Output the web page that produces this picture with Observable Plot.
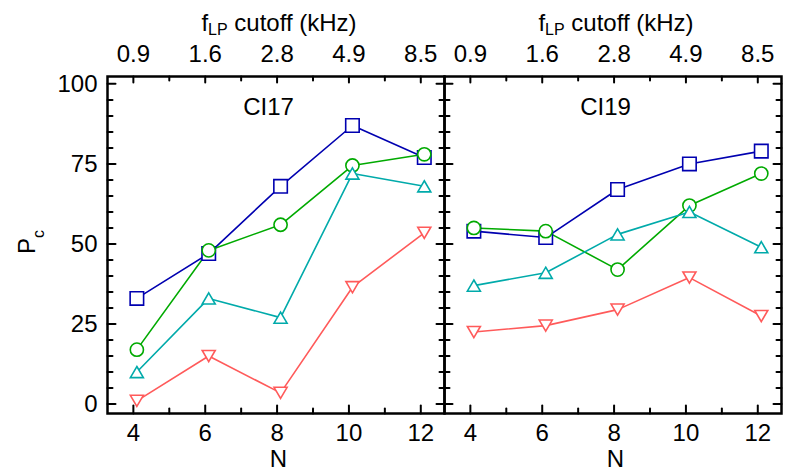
<!DOCTYPE html>
<html><head><meta charset="utf-8">
<script src="https://cdn.jsdelivr.net/npm/d3@7"></script>
<script src="https://cdn.jsdelivr.net/npm/@observablehq/plot@0.6"></script>
<style>body{margin:0;background:#fff} #chart{width:786px;height:472px}</style>
</head><body><div id="chart"></div>
<script>
const N = [4, 6, 8, 10, 12];
const fLPLabels = ["0.9", "1.6", "2.8", "4.9", "8.5"];
const panels = ["CI17", "CI19"];
const seriesNames = ["square", "circle", "triangleUp", "triangleDown"];
const seriesColors = ["#0000b0", "#00aa00", "#00aaaa", "#ff5a5a"];
const ci17Square = [33, 47, 68, 87, 77];
const ci17Circle = [17, 48, 56, 74.5, 78];
const ci17TriUp = [10, 33, 27, 72, 68];
const ci17TriDown = [1, 15, 3.5, 36.5, 53.5];
const ci19Square = [54, 52, 67, 75, 79];
const ci19Circle = [55, 54, 42, 62, 72];
const ci19TriUp = [37, 41, 53, 60, 49];
const ci19TriDown = [22.5, 24.5, 29.5, 39.5, 27.5];
const yTicks = [0, 25, 50, 75, 100];
const xMinor = [5, 7, 9, 11];
const yMinor = [5, 10, 15, 20, 30, 35, 40, 45, 55, 60, 65, 70, 80, 85, 90, 95];

const panelSeries = {
  CI17: [ci17Square, ci17Circle, ci17TriUp, ci17TriDown],
  CI19: [ci19Square, ci19Circle, ci19TriUp, ci19TriDown]
};
const rows = [];
for (const p of panels) {
  panelSeries[p].forEach((vals, s) => {
    vals.forEach((v, i) => rows.push({panel: p, series: seriesNames[s], N: N[i], Pc: v}));
  });
}

const triUp = {draw(ctx, size) {const r = Math.sqrt(size / Math.PI), w = 1.05 * r, h = 0.9 * r;
  ctx.moveTo(0, -h); ctx.lineTo(w, h); ctx.lineTo(-w, h); ctx.closePath();}};
const triDown = {draw(ctx, size) {const r = Math.sqrt(size / Math.PI), w = 1.05 * r, h = 0.9 * r;
  ctx.moveTo(0, h); ctx.lineTo(w, -h); ctx.lineTo(-w, -h); ctx.closePath();}};
const symbolFor = {square: "square", circle: "circle", triangleUp: triUp, triangleDown: triDown};
const radiusFor = {square: 7.6, circle: 6.6, triangleUp: 6.2, triangleDown: 6.2};

const tickShape = {draw(ctx, l) {ctx.moveTo(0, 0); ctx.lineTo(0, -l);}};
function edgeTicks(values, side, len) {
  const cfg = {left: [90, "y"], right: [-90, "y"], bottom: [0, "x"], top: [180, "x"]}[side];
  return Plot.vector(values, {[cfg[1]]: d => d, frameAnchor: side, rotate: cfg[0], length: len,
    anchor: "start", shape: tickShape, stroke: "black", strokeWidth: 2});
}

const dotMarks = seriesNames.map(s => Plot.dot(rows.filter(d => d.series === s), {
  x: "N", y: "Pc", fx: "panel", symbol: symbolFor[s], r: radiusFor[s],
  stroke: "series", fill: "white", strokeWidth: 1.6, dx: 3.5
}));

const svg = Plot.plot({
  width: 786, height: 472,
  marginLeft: 107, marginRight: 5, marginTop: 76, marginBottom: 59,
  style: {fontFamily: "'Liberation Sans', Arial, sans-serif", fontSize: "24px", background: "white", color: "black"},
  fx: {domain: panels, padding: 0, axis: null},
  x: {domain: [3.28, 12.66]},
  y: {domain: [-2.94, 102.3]},
  color: {domain: seriesNames, range: seriesColors},
  marks: [
    Plot.line(rows, {x: "N", y: "Pc", fx: "panel", z: "series", stroke: "series", strokeWidth: 1.6, dx: 3.5}),
    ...dotMarks,
    edgeTicks(N, "bottom", 8), edgeTicks(xMinor, "bottom", 5),
    edgeTicks(N, "top", 6), edgeTicks(xMinor, "top", 4),
    edgeTicks(yTicks, "left", 8), edgeTicks(yMinor, "left", 5),
    edgeTicks(yTicks, "right", 8), edgeTicks(yMinor, "right", 5),
    Plot.frame({stroke: "black", strokeWidth: 2.5}),
    Plot.axisX({anchor: "bottom", ticks: N, tickSize: 0, tickPadding: 10, label: null, fontSize: 24, tickFormat: d => String(d)}),
    Plot.axisX({anchor: "top", ticks: N, tickSize: 0, tickPadding: 15, label: null, fontSize: 24, tickFormat: d => fLPLabels[N.indexOf(d)]}),
    Plot.axisY({anchor: "left", ticks: yTicks, tickSize: 0, tickPadding: 10, label: null, fontSize: 24}),
    Plot.text(panels, {fx: d => d, text: d => d, frameAnchor: "top", lineAnchor: "middle", dy: 31, dx: -7.5, fontSize: 24}),
    Plot.text(panels, {fx: d => d, text: () => "N", frameAnchor: "bottom", lineAnchor: "middle", dy: 45.5, dx: 2.5, fontSize: 24}),
    Plot.text(panels, {fx: d => d, text: () => "fLP cutoff (kHz)", frameAnchor: "top", lineAnchor: "middle", dy: -53, dx: 3, fontSize: 24}),
    Plot.text([panels[0]], {fx: d => d, text: () => "Pc", frameAnchor: "left", textAnchor: "middle", lineAnchor: "middle", dx: -80, dy: -3, rotate: -90, fontSize: 24})
  ]
});

d3.select(svg).selectAll("text").filter(function() { return this.textContent === "fLP cutoff (kHz)"; }).each(function() {
  const t = d3.select(this);
  t.text(null);
  t.append("tspan").text("f");
  t.append("tspan").attr("font-size", 16).attr("dy", 4).text("LP");
  t.append("tspan").attr("dy", -4).text(" cutoff (kHz)");
});
d3.select(svg).selectAll("text").filter(function() { return this.textContent === "Pc"; }).each(function() {
  const t = d3.select(this);
  t.text(null);
  t.append("tspan").text("P");
  t.append("tspan").attr("font-size", 16).attr("dy", 9).text("c");
});
document.getElementById("chart").appendChild(svg);
</script>
</body></html>
